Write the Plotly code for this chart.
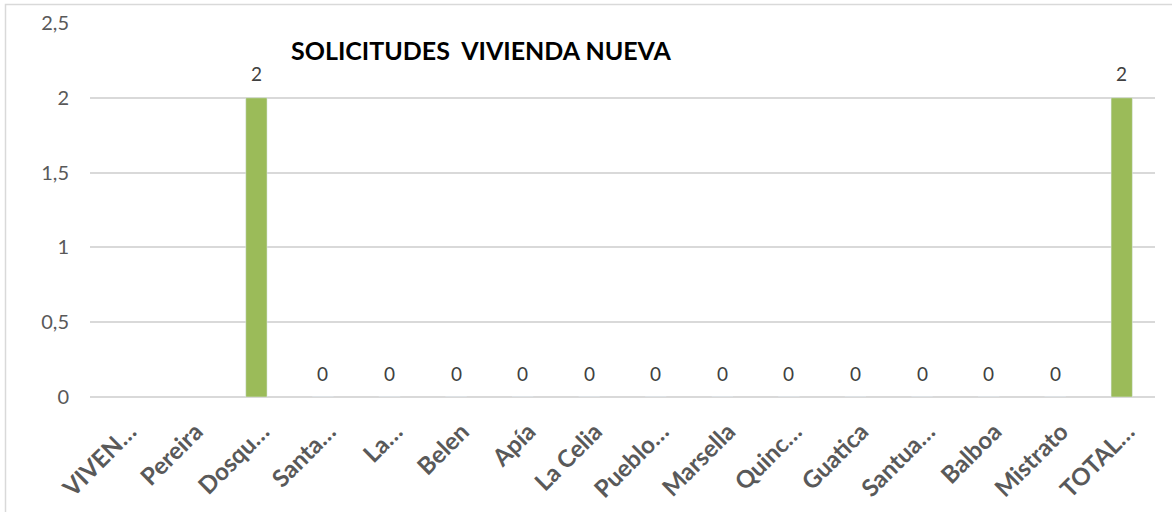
import plotly.graph_objects as go

categories = ["VIVEN…", "Pereira", "Dosqu…", "Santa…", "La…", "Belen", "Apía", "La Celia",
              "Pueblo…", "Marsella", "Quinc…", "Guatica", "Santua…", "Balboa", "Mistrato", "TOTAL…"]
values = [None, None, 2, 0, 0, 0, 0, 0, 0, 0, 0, 0, 0, 0, 0, 2]
title_text = "SOLICITUDES  VIVIENDA NUEVA"

FONT = "Lato"

fig = go.Figure()
fig.add_trace(go.Bar(x=categories, y=values, marker_color="#9bbb59", width=0.32,
                     hoverinfo="x+y"))

annotations = []
for c, v in zip(categories, values):
    if v is None:
        continue
    annotations.append(dict(x=c, y=v, xref="x", yref="y", text=str(v), showarrow=False,
                            yanchor="middle", yshift=24,
                            font=dict(family=FONT, size=19, color="#404040")))
annotations.append(dict(x=(289 - 90) / 1065, y=(397 - 50) / 374, xref="paper", yref="paper",
                        xanchor="left", yanchor="middle", showarrow=False, text="<b>" + title_text + "</b>",
                        font=dict(family=FONT, size=25, color="#000000")))

fig.update_layout(
    width=1172, height=512,
    margin=dict(l=90, r=17, t=23, b=115, autoexpand=False),
    paper_bgcolor="white", plot_bgcolor="white",
    separators=",.",
    showlegend=False,
    annotations=annotations,
    shapes=[dict(type="rect", xref="paper", yref="paper",
                 x0=-(90 - 5.5) / 1065, x1=1.2, y0=-1, y1=(397 - 4.5) / 374,
                 line=dict(color="#d9d9d9", width=1.5), fillcolor="rgba(0,0,0,0)", layer="below")],
    font=dict(family=FONT, color="#595959"),
)
fig.update_xaxes(type="category", tickangle=-45, showgrid=False, showline=False, zeroline=False,
                 tickfont=dict(family=FONT, size=24, color="#595959", weight="bold"),
                 ticks="", ticklabelshift=6, ticklabelstandoff=15, automargin=False)
fig.update_yaxes(range=[0, 2.5], dtick=0.5, showgrid=True, gridcolor="#d9d9d9", gridwidth=1.5,
                 zeroline=True, zerolinecolor="#d9d9d9", zerolinewidth=1.5, showline=False,
                 tickfont=dict(family=FONT, size=20, color="#595959"),
                 ticklabelstandoff=20, automargin=False)
fig.write_html("out.html", config={"displayModeBar": False},
               post_script="document.body.style.margin='0';document.body.style.overflow='hidden';")
